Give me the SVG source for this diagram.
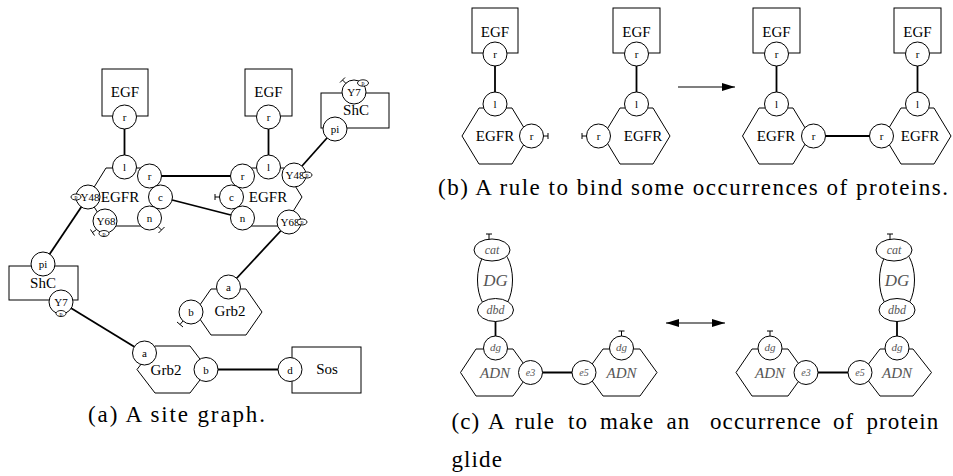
<svg xmlns="http://www.w3.org/2000/svg" width="953" height="476" viewBox="0 0 953 476">
<defs>
<style>
.bg{fill:#fff}
.ln{stroke:#000;stroke-width:1.8;fill:none}
.sh{fill:#fff;stroke:#000;stroke-width:1}
.tee{stroke:#000;stroke-width:1;fill:none}
.t{font-family:"Liberation Serif","Times New Roman",serif;text-anchor:middle;dominant-baseline:central;fill:#000}
.b{font-size:15px}
.s{font-size:11px}
.xs{font-size:6px}
.it{font-style:italic;fill:#555}
.cap{font-family:"Liberation Serif","Times New Roman",serif;font-size:23px;fill:#000}
.ph{fill:#fff;stroke:#000;stroke-width:0.9}
</style>
<marker id="ah" markerUnits="userSpaceOnUse" markerWidth="14" markerHeight="10" refX="13" refY="5" orient="auto-start-reverse">
<path d="M0,1 L13,5 L0,9 Z" fill="#000"/>
</marker>
</defs>
<rect class="bg" x="0" y="0" width="953" height="476"/>

<g id="connectors">
<!-- panel a -->
<line class="ln" x1="124.5" y1="117" x2="124.5" y2="167"/>
<line class="ln" x1="268.5" y1="117" x2="268.5" y2="167"/>
<line class="ln" x1="149.5" y1="176" x2="242.5" y2="176"/>
<line class="ln" x1="160.5" y1="197" x2="242.5" y2="218"/>
<line class="ln" x1="294" y1="175" x2="335" y2="129"/>
<line class="ln" x1="289" y1="222" x2="228.5" y2="287"/>
<line class="ln" x1="88" y1="197" x2="43" y2="264"/>
<line class="ln" x1="61" y1="302" x2="144.5" y2="353"/>
<line class="ln" x1="206" y1="369.5" x2="290" y2="369.5"/>
<!-- panel b -->
<line class="ln" x1="495" y1="54" x2="495" y2="104"/>
<line class="ln" x1="636.5" y1="54" x2="636.5" y2="104"/>
<line class="ln" x1="776.5" y1="54" x2="776.5" y2="104"/>
<line class="ln" x1="917.5" y1="54" x2="917.5" y2="104"/>
<line class="ln" x1="813.5" y1="136" x2="881.5" y2="136"/>
<line stroke="#000" stroke-width="1.2" x1="678" y1="87" x2="735" y2="87" marker-end="url(#ah)"/>
<!-- panel c -->
<line class="ln" x1="495.5" y1="310" x2="495.5" y2="348"/>
<line class="ln" x1="530.5" y1="372.5" x2="584" y2="372.5"/>
<line class="ln" x1="806" y1="372.5" x2="860" y2="372.5"/>
<line class="ln" x1="897" y1="310" x2="897" y2="348"/>
<line stroke="#000" stroke-width="1.2" x1="666" y1="323" x2="725" y2="323" marker-start="url(#ah)" marker-end="url(#ah)"/>
</g>

<!-- ===== Panel (a) ===== -->
<g id="a-egf1">
<rect class="sh" x="102" y="69" width="46" height="47"/>
<text class="t b" x="125" y="92">EGF</text>
<circle class="sh" cx="124.5" cy="117" r="12"/><text class="t s" x="124.5" y="117">r</text>
</g>
<g id="a-egfr1">
<polygon class="sh" points="88,197 106,168 143,168 161,197 143,226 106,226"/>
<text class="t b" x="120" y="197">EGFR</text>
<circle class="sh" cx="124.5" cy="167" r="12"/><text class="t s" x="124.5" y="167">l</text>
<circle class="sh" cx="149.5" cy="176" r="12"/><text class="t s" x="149.5" y="176">r</text>
<circle class="sh" cx="160.5" cy="197" r="12"/><text class="t s" x="160.5" y="197">c</text>
<circle class="sh" cx="149.5" cy="218" r="12"/><text class="t s" x="149.5" y="218">n</text>
<path class="tee" d="M158,226.5 L161.5,230 M158.5,233 L164.5,227"/>
<circle class="sh" cx="88" cy="197" r="12"/><text class="t s" x="90" y="197">Y48</text>
<ellipse class="ph" cx="76" cy="197" rx="5" ry="3"/><text class="t xs" x="76" y="197">p</text>
<circle class="sh" cx="105" cy="221" r="12"/><text class="t s" x="106" y="221">Y68</text>
<path class="tee" d="M96.5,229.5 L92.5,232.5 M90.5,229.5 L94.5,235.5"/>
<ellipse class="ph" cx="104" cy="233.5" rx="5" ry="3"/><text class="t xs" x="104" y="233.5">p</text>
</g>
<g id="a-egf2">
<rect class="sh" x="245" y="69" width="47" height="47"/>
<text class="t b" x="268.5" y="92">EGF</text>
<circle class="sh" cx="268.5" cy="117" r="12"/><text class="t s" x="268.5" y="117">r</text>
</g>
<g id="a-egfr2">
<polygon class="sh" points="232,197 250,168 284,168 302,197 284,226 250,226"/>
<text class="t b" x="268" y="197">EGFR</text>
<circle class="sh" cx="268.5" cy="167" r="12"/><text class="t s" x="268.5" y="167">l</text>
<circle class="sh" cx="242.5" cy="176" r="12"/><text class="t s" x="242.5" y="176">r</text>
<circle class="sh" cx="231.5" cy="197" r="12"/><text class="t s" x="231.5" y="197">c</text>
<path class="tee" d="M219.5,197 H215 M215,194 V200"/>
<circle class="sh" cx="242.5" cy="218" r="12"/><text class="t s" x="242.5" y="218">n</text>
<circle class="sh" cx="294" cy="175" r="12"/><text class="t s" x="295" y="175">Y48</text>
<ellipse class="ph" cx="307" cy="175" rx="5" ry="3"/><text class="t xs" x="307" y="175">p</text>
<circle class="sh" cx="289" cy="222" r="12"/><text class="t s" x="290" y="222">Y68</text>
<ellipse class="ph" cx="302" cy="222" rx="5" ry="3"/><text class="t xs" x="302" y="222">p</text>
</g>
<g id="a-shc1">
<rect class="sh" x="321" y="93" width="68" height="35"/>
<text class="t b" x="356" y="110">ShC</text>
<circle class="sh" cx="354" cy="92" r="12"/><text class="t s" x="354" y="92">Y7</text>
<path class="tee" d="M346,83.5 L342.5,80 M340,82.5 L345,77.5"/>
<ellipse class="ph" cx="363" cy="83" rx="5.5" ry="3.2"/><text class="t xs" x="363" y="83">p</text>
<circle class="sh" cx="335" cy="129" r="12"/><text class="t s" x="335" y="129">pi</text>
</g>
<g id="a-shc2">
<rect class="sh" x="9" y="266" width="69" height="34"/>
<text class="t b" x="43" y="283">ShC</text>
<circle class="sh" cx="43" cy="264" r="12"/><text class="t s" x="43" y="264">pi</text>
<circle class="sh" cx="61" cy="302" r="12"/><text class="t s" x="61" y="302">Y7</text>
<ellipse class="ph" cx="61" cy="313.5" rx="5" ry="3"/><text class="t xs" x="61" y="313.5">p</text>
</g>
<g id="a-grb2-1">
<polygon class="sh" points="195,312 211,289 246,289 262,312 246,335 211,335"/>
<text class="t b" x="230" y="311">Grb2</text>
<circle class="sh" cx="228.5" cy="287" r="12"/><text class="t s" x="228.5" y="287">a</text>
<circle class="sh" cx="191" cy="312" r="12"/><text class="t s" x="191" y="312">b</text>
<path class="tee" d="M183,321 L180,324.5 M177,322 L183,327"/>
</g>
<g id="a-grb2-2">
<polygon class="sh" points="137,369.5 155,346 190,346 208,369.5 190,393 155,393"/>
<text class="t b" x="166" y="369.5">Grb2</text>
<circle class="sh" cx="144.5" cy="353" r="12"/><text class="t s" x="144.5" y="353">a</text>
<circle class="sh" cx="206" cy="369.5" r="12"/><text class="t s" x="206" y="369.5">b</text>
</g>
<g id="a-sos">
<rect class="sh" x="292" y="347" width="69" height="46"/>
<text class="t b" x="327" y="369">Sos</text>
<circle class="sh" cx="290" cy="369.5" r="12"/><text class="t s" x="290" y="369.5">d</text>
</g>
<text class="cap" x="88" y="421.5" textLength="177" lengthAdjust="spacing">(a) A site graph.</text>

<!-- ===== Panel (b) ===== -->
<g id="b-egf1">
<rect class="sh" x="472" y="8" width="46" height="45"/>
<text class="t b" x="495" y="31.5">EGF</text>
<circle class="sh" cx="495" cy="54" r="12"/><text class="t s" x="495" y="54">r</text>
</g>
<g id="b-egfr1">
<polygon class="sh" points="462,136 479,108 512,108 529,136 512,164 479,164"/>
<text class="t b" x="495" y="136">EGFR</text>
<circle class="sh" cx="495" cy="104" r="12"/><text class="t s" x="495" y="104">l</text>
<circle class="sh" cx="531.5" cy="136" r="12"/><text class="t s" x="531.5" y="136">r</text>
<path class="tee" d="M543.5,136 H548 M548,133 V139"/>
</g>
<g id="b-egf2">
<rect class="sh" x="613" y="8" width="47" height="45"/>
<text class="t b" x="636.5" y="31.5">EGF</text>
<circle class="sh" cx="636.5" cy="54" r="12"/><text class="t s" x="636.5" y="54">r</text>
</g>
<g id="b-egfr2">
<polygon class="sh" points="603,136 620,108 653,108 670,136 653,164 620,164"/>
<text class="t b" x="643" y="136">EGFR</text>
<circle class="sh" cx="636.5" cy="104" r="12"/><text class="t s" x="636.5" y="104">l</text>
<circle class="sh" cx="598.5" cy="136" r="12"/><text class="t s" x="598.5" y="136">r</text>
<path class="tee" d="M586.5,136 H582 M582,133 V139"/>
</g>
<g id="b-egf3">
<rect class="sh" x="753" y="8" width="47" height="45"/>
<text class="t b" x="776.5" y="31.5">EGF</text>
<circle class="sh" cx="776.5" cy="54" r="12"/><text class="t s" x="776.5" y="54">r</text>
</g>
<g id="b-egfr3">
<polygon class="sh" points="742.5,136 759,108 793,108 810,136 793,164 759,164"/>
<text class="t b" x="776" y="136">EGFR</text>
<circle class="sh" cx="776.5" cy="104" r="12"/><text class="t s" x="776.5" y="104">l</text>
<circle class="sh" cx="813.5" cy="136" r="12"/><text class="t s" x="813.5" y="136">r</text>
</g>
<g id="b-egf4">
<rect class="sh" x="894" y="8" width="47" height="45"/>
<text class="t b" x="917.5" y="31.5">EGF</text>
<circle class="sh" cx="917.5" cy="54" r="12"/><text class="t s" x="917.5" y="54">r</text>
</g>
<g id="b-egfr4">
<polygon class="sh" points="884,136 901,108 934,108 951,136 934,164 901,164"/>
<text class="t b" x="920" y="136">EGFR</text>
<circle class="sh" cx="917.5" cy="104" r="12"/><text class="t s" x="917.5" y="104">l</text>
<circle class="sh" cx="881.5" cy="136" r="12"/><text class="t s" x="881.5" y="136">r</text>
</g>
<text class="cap" x="438" y="195" textLength="510" lengthAdjust="spacing">(b) A rule to bind some occurrences of proteins.</text>

<!-- ===== Panel (c) ===== -->
<g id="c-dg1">
<ellipse class="sh" cx="495" cy="280" rx="17.5" ry="32"/>
<text class="t it" x="495.5" y="280.5" font-size="17">DG</text>
<ellipse class="sh" cx="492" cy="250" rx="18" ry="11"/>
<text class="t it" x="492" y="250" font-size="12">cat</text>
<path class="tee" d="M489,239.3 V234 M486,234 H492"/>
<ellipse class="sh" cx="495.5" cy="310" rx="18" ry="11.5"/>
<text class="t it" x="495.5" y="310" font-size="12">dbd</text>
</g>
<g id="c-adn1">
<polygon class="sh" points="460.5,372.5 476,349 513,349 530,372.5 513,396 476,396"/>
<text class="t it" x="495" y="372.5" font-size="15">ADN</text>
<circle class="sh" cx="495.5" cy="348" r="12"/><text class="t it" x="495.5" y="347" font-size="11">dg</text>
<circle class="sh" cx="530.5" cy="372.5" r="12"/><text class="t it" x="530.5" y="372.5" font-size="10">e3</text>
</g>
<g id="c-adn2">
<polygon class="sh" points="586,372.5 603,349 640,349 657,372.5 640,396 603,396"/>
<text class="t it" x="621.5" y="372.5" font-size="15">ADN</text>
<circle class="sh" cx="621.5" cy="348" r="12"/><text class="t it" x="621.5" y="347" font-size="11">dg</text>
<path class="tee" d="M621.5,336 V331 M618.5,331 H624.5"/>
<circle class="sh" cx="584" cy="372.5" r="12"/><text class="t it" x="584" y="372.5" font-size="10">e5</text>
</g>
<g id="c-adn3">
<polygon class="sh" points="736,372.5 752,349 788,349 805,372.5 788,396 752,396"/>
<text class="t it" x="770" y="372.5" font-size="15">ADN</text>
<circle class="sh" cx="770" cy="348" r="12"/><text class="t it" x="770" y="347" font-size="11">dg</text>
<path class="tee" d="M770,336 V331 M767,331 H773"/>
<circle class="sh" cx="806" cy="372.5" r="12"/><text class="t it" x="806" y="372.5" font-size="10">e3</text>
</g>
<g id="c-adn4">
<polygon class="sh" points="862,372.5 880,349 913,349 931.5,372.5 913,396 880,396"/>
<text class="t it" x="897" y="372.5" font-size="15">ADN</text>
<circle class="sh" cx="897" cy="348" r="12"/><text class="t it" x="897" y="347" font-size="11">dg</text>
<circle class="sh" cx="860" cy="372.5" r="12"/><text class="t it" x="860" y="372.5" font-size="10">e5</text>
</g>
<g id="c-dg2">
<ellipse class="sh" cx="897" cy="280" rx="17.5" ry="32"/>
<text class="t it" x="897" y="280.5" font-size="17">DG</text>
<ellipse class="sh" cx="894" cy="250" rx="18" ry="11"/>
<text class="t it" x="894" y="250" font-size="12">cat</text>
<path class="tee" d="M890,239.3 V234 M887,234 H893"/>
<ellipse class="sh" cx="897" cy="310" rx="18" ry="11.5"/>
<text class="t it" x="897" y="310" font-size="12">dbd</text>
</g>
<text class="cap" y="428.5" letter-spacing="1.1"><tspan x="451.5">(c)</tspan><tspan x="488">A</tspan><tspan x="515">rule</tspan><tspan x="568">to</tspan><tspan x="600">make</tspan><tspan x="666.5">an</tspan><tspan x="710">occurrence</tspan><tspan x="833">of</tspan><tspan x="866.5">protein</tspan></text>
<text class="cap" x="451.5" y="466.5" letter-spacing="1.1">glide</text>
</svg>
